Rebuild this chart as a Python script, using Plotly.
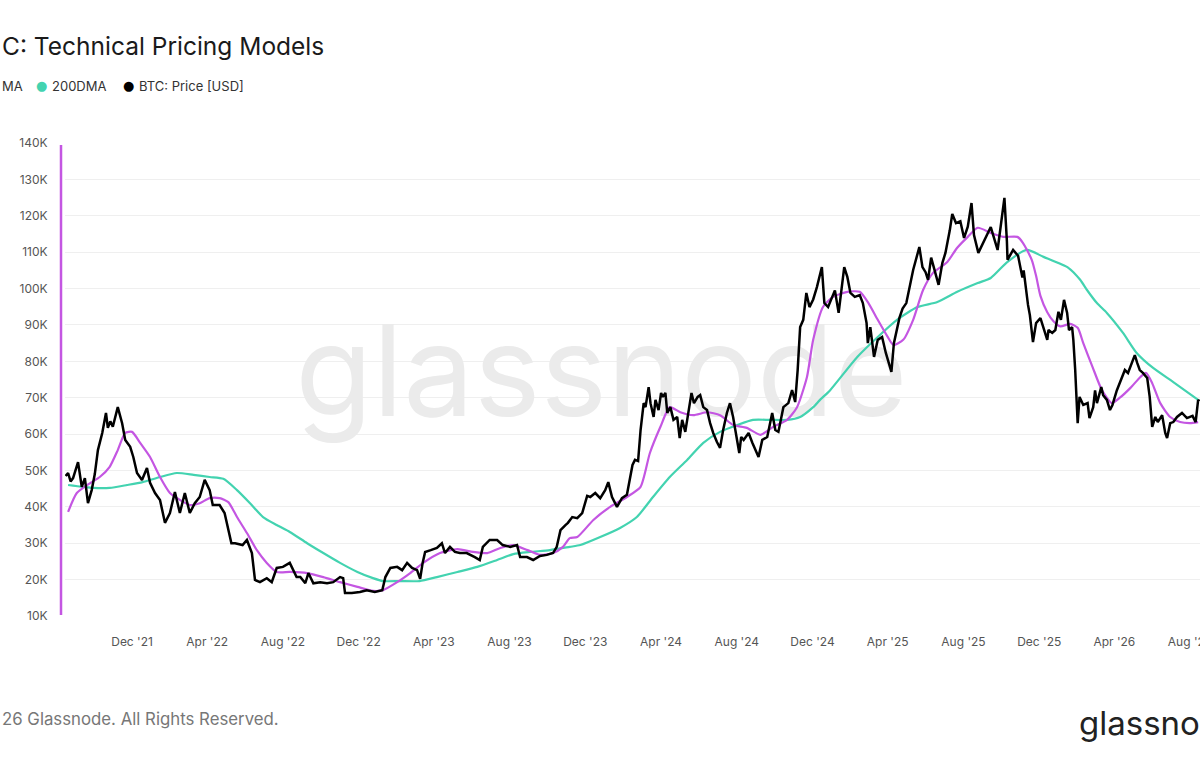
import plotly.graph_objects as go

# ---------------- data (values in thousands of USD) ----------------
price_dates = [
 "2021-08-16","2021-08-20","2021-08-24","2021-08-28","2021-09-05","2021-09-11","2021-09-16","2021-09-21","2021-09-27",
 "2021-10-02","2021-10-07","2021-10-14","2021-10-20","2021-10-23","2021-10-27","2021-10-31","2021-11-08","2021-11-15",
 "2021-11-20","2021-11-28","2021-12-03","2021-12-09","2021-12-17","2021-12-25","2021-12-30",
 "2022-01-07","2022-01-15","2022-01-23","2022-01-31","2022-02-08","2022-02-16","2022-02-24","2022-03-04","2022-03-12",
 "2022-03-20","2022-03-28","2022-04-05","2022-04-10","2022-04-21","2022-04-29","2022-05-10","2022-05-16","2022-05-28",
 "2022-06-04","2022-06-12","2022-06-17","2022-06-25","2022-07-06","2022-07-14","2022-07-22","2022-08-01","2022-08-12",
 "2022-08-23","2022-08-29","2022-09-06","2022-09-11","2022-09-19","2022-09-30","2022-10-11","2022-10-21","2022-11-01",
 "2022-11-06","2022-11-09","2022-11-20","2022-12-03","2022-12-14","2022-12-27",
 "2023-01-08","2023-01-13","2023-01-21","2023-02-01","2023-02-09","2023-02-17","2023-02-25","2023-03-05","2023-03-10",
 "2023-03-14","2023-03-18","2023-03-27","2023-04-06","2023-04-14","2023-04-19","2023-04-27","2023-05-05","2023-05-13",
 "2023-05-24","2023-06-06","2023-06-14","2023-06-19","2023-06-30","2023-07-12","2023-07-21","2023-08-02","2023-08-13",
 "2023-08-18","2023-08-29","2023-09-08","2023-09-19","2023-09-30","2023-10-10","2023-10-16","2023-10-22","2023-10-30",
 "2023-11-03","2023-11-10","2023-11-18","2023-11-26","2023-12-04","2023-12-09","2023-12-17","2023-12-25",
 "2024-01-02","2024-01-07","2024-01-13","2024-01-21","2024-01-29","2024-02-06","2024-02-11","2024-02-15","2024-02-19",
 "2024-02-24","2024-02-28","2024-03-04","2024-03-07","2024-03-12","2024-03-15","2024-03-20","2024-03-23","2024-03-28",
 "2024-04-01","2024-04-04","2024-04-08","2024-04-11","2024-04-16","2024-04-21","2024-04-27","2024-05-01","2024-05-05",
 "2024-05-10","2024-05-20","2024-05-24","2024-05-30","2024-06-03","2024-06-08","2024-06-14","2024-06-19","2024-06-24",
 "2024-06-30","2024-07-05","2024-07-10","2024-07-16","2024-07-21","2024-07-26","2024-08-05","2024-08-08","2024-08-12",
 "2024-08-20","2024-08-26","2024-09-05","2024-09-11","2024-09-19","2024-09-27","2024-10-02","2024-10-07","2024-10-15",
 "2024-10-23","2024-10-29","2024-11-03","2024-11-06","2024-11-07","2024-11-11","2024-11-16","2024-11-21",
 "2024-11-26","2024-12-02","2024-12-08","2024-12-16","2024-12-20","2024-12-26",
 "2025-01-06","2025-01-12","2025-01-16","2025-01-21","2025-01-26","2025-01-31","2025-02-07","2025-02-15","2025-02-20",
 "2025-02-26","2025-02-28","2025-03-04","2025-03-10","2025-03-16","2025-03-23","2025-03-29","2025-04-07","2025-04-11",
 "2025-04-20","2025-04-25","2025-05-01","2025-05-09","2025-05-12","2025-05-22","2025-05-27","2025-06-01","2025-06-05",
 "2025-06-10","2025-06-16","2025-06-22","2025-06-28","2025-07-03","2025-07-10","2025-07-14","2025-07-20","2025-07-27",
 "2025-08-02","2025-08-08","2025-08-14","2025-08-18","2025-08-25","2025-09-02","2025-09-14","2025-09-25","2025-10-06",
 "2025-10-10","2025-10-11","2025-10-20","2025-10-28","2025-11-04","2025-11-06","2025-11-13","2025-11-16","2025-11-21",
 "2025-11-26","2025-12-03","2025-12-08","2025-12-14","2025-12-16","2025-12-22","2025-12-27",
 "2026-01-01","2026-01-05","2026-01-10","2026-01-15","2026-01-18","2026-01-23","2026-01-25","2026-01-28","2026-02-01",
 "2026-02-04","2026-02-10","2026-02-17","2026-02-20","2026-02-26","2026-03-01","2026-03-04","2026-03-11","2026-03-14",
 "2026-03-20","2026-03-25","2026-03-29","2026-04-05","2026-04-13","2026-04-18","2026-04-23","2026-04-29","2026-05-04",
 "2026-05-08","2026-05-12","2026-05-17","2026-05-24","2026-05-28","2026-06-01","2026-06-06","2026-06-10","2026-06-17",
 "2026-06-22","2026-06-25","2026-06-30","2026-07-05","2026-07-11","2026-07-19","2026-07-27","2026-08-05","2026-08-10",
 "2026-08-14","2026-08-16",
]
price_vals = [
 48.5,49.3,47.0,47.9,52.3,45.5,47.9,41.0,44.6,
 49.0,55.6,60.3,65.8,61.7,63.5,62.0,67.4,63.0,
 58.4,56.5,53.7,49.3,47.4,50.7,46.6,
 43.8,41.9,35.6,38.3,44.1,38.3,43.8,38.3,41.0,
 42.7,47.4,44.6,40.5,40.5,38.3,30.0,30.0,29.5,
 30.9,27.3,19.9,19.3,20.4,19.3,23.2,23.5,24.6,
 20.7,20.7,19.0,21.8,19.0,19.3,19.0,19.3,20.7,
 20.4,16.3,16.3,16.6,17.1,16.6,
 17.1,20.7,23.2,23.5,22.6,24.6,23.2,22.6,20.2,
 24.6,27.6,28.1,28.7,30.0,27.3,29.0,27.6,27.3,
 27.3,26.2,25.4,29.0,30.9,30.9,29.5,29.0,29.5,
 26.2,26.2,25.4,26.5,26.8,27.3,29.0,33.6,35.0,
 35.6,37.2,36.9,38.3,43.0,42.7,43.8,42.4,
 44.6,46.8,42.7,40.0,42.4,43.3,48.5,51.5,52.9,
 52.6,61.1,68.5,67.4,72.9,68.5,64.7,69.4,66.6,
 71.3,70.2,71.3,65.8,67.4,63.9,64.7,58.9,63.9,
 60.6,71.3,68.5,70.2,70.7,67.4,66.6,63.0,60.3,
 57.8,56.2,61.1,65.8,68.5,64.7,54.8,59.2,58.4,
 60.3,57.6,53.7,58.4,59.2,65.8,61.1,60.6,67.4,
 68.5,72.1,68.8,74.9,77.6,89.4,91.4,98.8,
 94.9,97.0,100.4,105.9,96.0,94.9,
 99.5,93.3,99.6,105.9,103.2,98.8,97.7,98.2,96.0,
 90.5,85.0,89.4,81.2,85.9,86.7,82.3,77.1,85.0,
 92.0,94.5,96.0,103.2,105.1,111.4,105.9,104.5,102.4,
 108.5,105.1,101.0,107.0,109.8,116.0,120.5,118.0,118.5,
 113.9,117.0,123.5,114.7,109.8,112.5,116.9,110.6,124.9,
 113.0,107.9,110.6,109.0,103.0,105.0,95.5,92.7,85.3,
 90.5,91.9,89.4,85.9,88.6,87.8,88.6,
 93.6,91.4,96.9,93.3,88.6,89.4,85.9,77.6,63.0,
 70.2,68.0,68.5,64.4,67.4,72.0,68.5,72.9,70.7,
 69.4,66.6,68.0,72.0,75.4,77.6,76.8,79.8,81.7,
 79.5,77.6,76.8,75.4,70.2,62.0,64.7,63.3,65.2,
 60.3,58.9,63.0,63.3,64.7,65.8,64.4,65.0,63.3,
 69.4,69.0,
]

ma111_dates = [
 "2021-08-20","2021-09-03","2021-09-25","2021-10-10","2021-10-26","2021-11-08","2021-11-20","2021-12-01","2021-12-14",
 "2021-12-30","2022-01-15","2022-01-31","2022-02-16","2022-03-04","2022-03-20","2022-04-05","2022-04-21","2022-05-05",
 "2022-05-19","2022-06-04","2022-06-20","2022-07-06","2022-07-22","2022-08-12","2022-09-09","2022-10-05","2022-11-01",
 "2022-11-29","2022-12-24","2023-01-09","2023-02-01","2023-02-22","2023-03-15","2023-04-11","2023-05-09","2023-06-03",
 "2023-06-26","2023-07-17","2023-08-07","2023-08-30","2023-09-19","2023-10-10","2023-10-26","2023-11-06","2023-11-18",
 "2023-12-14","2024-01-10","2024-02-06","2024-02-28","2024-03-14","2024-03-31","2024-04-15","2024-05-02","2024-05-23",
 "2024-06-14","2024-07-05","2024-07-26","2024-08-17","2024-09-08","2024-09-29","2024-10-21","2024-11-06","2024-11-22",
 "2024-12-02","2024-12-18","2025-01-03","2025-01-26","2025-02-15","2025-03-01","2025-03-16","2025-04-01","2025-04-10",
 "2025-04-26","2025-05-12","2025-05-28","2025-06-13","2025-07-06","2025-07-22","2025-08-08","2025-08-24","2025-09-14",
 "2025-10-04","2025-10-27","2025-11-05","2025-11-19","2025-11-26","2025-12-03","2025-12-14","2025-12-24","2026-01-04",
 "2026-01-20","2026-02-01","2026-02-10","2026-02-25","2026-03-12","2026-03-28","2026-04-10","2026-04-27","2026-05-13",
 "2026-05-22","2026-06-01","2026-06-14","2026-06-30","2026-07-16","2026-08-01","2026-08-14",
]
ma111_vals = [
 38.6,43.8,46.6,48.2,51.0,55.6,60.3,60.6,57.6,
 53.7,48.2,43.8,41.9,40.5,41.0,42.4,42.4,41.3,
 37.2,32.8,28.1,24.6,22.1,22.1,21.8,20.7,19.3,
 18.0,16.9,17.1,19.3,21.8,24.6,27.3,28.4,27.6,
 27.3,28.7,29.5,28.1,26.8,27.3,29.0,31.4,31.7,
 36.4,40.0,42.7,45.5,54.8,62.0,67.4,66.0,65.2,
 66.0,65.2,62.5,61.7,59.8,62.0,63.9,67.4,75.7,
 85.9,95.0,97.7,99.1,99.1,96.0,91.4,86.7,84.5,
 85.9,91.4,99.6,104.3,107.3,111.2,114.2,116.7,115.3,
 114.2,114.2,112.5,107.9,103.5,98.0,93.5,91.0,89.6,
 90.3,89.2,85.0,78.4,72.1,68.5,70.0,72.7,75.7,
 76.8,74.0,68.5,64.7,63.3,63.0,63.3,
]

ma200_dates = [
 "2021-08-20","2021-09-30","2021-10-26","2021-11-23","2021-12-18","2022-01-15","2022-02-11","2022-03-10","2022-04-05",
 "2022-04-27","2022-05-19","2022-06-09","2022-06-30","2022-07-22","2022-08-12","2022-09-09","2022-10-05","2022-11-01",
 "2022-11-29","2022-12-24","2023-01-09","2023-02-05","2023-03-09","2023-04-06","2023-05-09","2023-06-10","2023-07-12",
 "2023-08-07","2023-09-03","2023-10-05","2023-11-06","2023-11-23","2023-12-25","2024-01-26","2024-02-22","2024-03-19",
 "2024-04-15","2024-05-13","2024-06-08","2024-07-05","2024-08-02","2024-08-27","2024-09-24","2024-10-21","2024-11-11",
 "2024-12-02","2024-12-13","2024-12-29","2025-02-11","2025-03-16","2025-04-16","2025-05-19","2025-06-20","2025-07-22",
 "2025-08-24","2025-09-14","2025-10-10","2025-11-11","2025-12-08","2026-01-17","2026-02-05","2026-02-16","2026-03-04",
 "2026-03-20","2026-04-15","2026-05-07","2026-06-03","2026-07-05","2026-08-14",
]
ma200_vals = [
 46.0,45.2,45.2,46.0,46.8,48.2,49.3,48.8,48.2,
 47.7,44.6,41.0,37.2,35.0,33.1,30.0,27.3,24.6,
 22.1,20.4,19.6,19.6,19.6,20.7,22.1,23.5,25.4,
 27.0,27.6,28.1,29.0,29.5,31.7,34.2,37.2,42.7,
 48.2,52.9,57.6,60.6,62.5,63.9,63.9,63.9,64.7,
 67.4,69.4,72.0,81.2,86.7,91.4,94.9,96.3,99.1,
 101.5,102.9,107.2,110.6,108.7,105.7,102.4,99.6,96.0,
 93.3,87.8,82.3,78.1,74.3,69.4,
]

y_ticks = [10, 20, 30, 40, 50, 60, 70, 80, 90, 100, 110, 120, 130, 140]

title_text = "C: Technical Pricing Models"
legend_items = ["MA", "200DMA", "BTC: Price [USD]"]
footer_text = "26 Glassnode. All Rights Reserved."
logo_text = "glassno"
watermark_text = "glassnode"

C_MAG = "#c456e2"
C_TEAL = "#43d3b0"
C_BLACK = "#000000"

# ---------------- layout helpers (pixel -> paper) ----------------
W, H = 1200, 760
L, R, T, B = 65, 0, 143, 144
PW, PH = W - L - R, H - T - B

def px(x):
    return (x - L) / PW

def py(y):
    return (H - B - y) / PH

fig = go.Figure()

# watermark (behind the lines)
fig.add_trace(go.Scatter(
    x=["2023-12-27"], y=[73.5], mode="text", text=[watermark_text],
    textfont=dict(size=126, color="#ebebeb", family="Inter"),
    hoverinfo="skip", showlegend=False, cliponaxis=False))

fig.add_trace(go.Scatter(x=ma200_dates, y=ma200_vals, mode="lines", name="200DMA",
                         line=dict(color=C_TEAL, width=2.2, shape="spline", smoothing=0.6)))
fig.add_trace(go.Scatter(x=ma111_dates, y=ma111_vals, mode="lines", name="111DMA",
                         line=dict(color=C_MAG, width=2.2, shape="spline", smoothing=0.6)))
fig.add_trace(go.Scatter(x=price_dates, y=price_vals, mode="lines", name="BTC: Price [USD]",
                         line=dict(color=C_BLACK, width=2.5)))

fig.update_xaxes(
    range=["2021-08-15", "2026-08-17"], showgrid=False, zeroline=False, showline=False,
    tick0="2021-12-01", dtick="M4", tickformat="%b '%y", automargin=False,
    ticks="outside", ticklen=15, tickcolor="rgba(0,0,0,0)", ticklabeloverflow="allow",
    tickfont=dict(family="Inter", size=12, color="#555555"))
fig.update_yaxes(
    range=[10, 140], tickvals=y_ticks, ticktext=[f"{v}K" for v in y_ticks], automargin=False,
    showgrid=True, gridcolor="#efefef", gridwidth=1, zeroline=False, showline=False,
    ticks="outside", ticklen=14, tickcolor="rgba(0,0,0,0)",
    tickfont=dict(family="Inter", size=12, color="#555555"))

annotations = [
    dict(text=title_text, x=px(0), y=py(46), xanchor="left", yanchor="middle",
         font=dict(family="Inter", size=24.5, color="#1a1a1a")),
    dict(text=legend_items[0], x=px(0), y=py(86), xanchor="left", yanchor="middle",
         font=dict(family="Inter", size=13, color="#333333")),
    dict(text="●", x=px(41), y=py(86), xanchor="center", yanchor="middle",
         font=dict(family="DejaVu Sans", size=13, color=C_TEAL)),
    dict(text=legend_items[1], x=px(50), y=py(86), xanchor="left", yanchor="middle",
         font=dict(family="Inter", size=13, color="#333333")),
    dict(text="●", x=px(128), y=py(86), xanchor="center", yanchor="middle",
         font=dict(family="DejaVu Sans", size=13, color=C_BLACK)),
    dict(text=legend_items[2], x=px(137), y=py(86), xanchor="left", yanchor="middle",
         font=dict(family="Inter", size=13, color="#333333")),
    dict(text=footer_text, x=px(0), y=py(719), xanchor="left", yanchor="middle",
         font=dict(family="Inter", size=16.8, color="#777777")),
    dict(text=logo_text, x=px(1077), y=py(723), xanchor="left", yanchor="middle",
         font=dict(family="Inter", size=33, color="#222222")),
]
for a in annotations:
    a.update(xref="paper", yref="paper", showarrow=False)

fig.update_layout(
    width=W, height=H, margin=dict(l=L, r=R, t=T, b=B, pad=0, autoexpand=False),
    paper_bgcolor="white", plot_bgcolor="white", showlegend=False,
    annotations=annotations,
    shapes=[dict(type="line", xref="paper", yref="paper",
                 x0=px(61), x1=px(61), y0=py(615), y1=py(145),
                 line=dict(color=C_MAG, width=2.5))],
)

fig.write_html("out.html", config={"displayModeBar": False},
               post_script="document.body.style.margin='0';document.body.style.padding='0';")
